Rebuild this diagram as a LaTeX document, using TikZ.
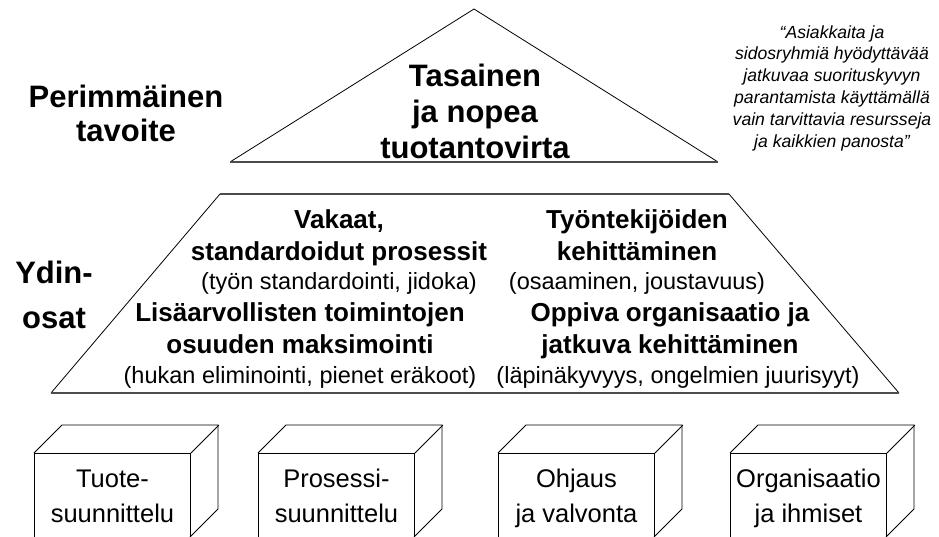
\documentclass[tikz,border=0pt]{standalone}
\usepackage{fontspec}
\setmainfont{Liberation Sans}
\usetikzlibrary{positioning}

\tikzset{
  otsikko/.style={font=\fontsize{31}{37}\selectfont\bfseries, align=center, inner sep=0pt},
  tuettu/.style={execute at begin node=\strut, execute at end node=\strut},
  lihava/.style={font=\fontsize{26}{32}\selectfont\bfseries, align=center, inner sep=0pt, tuettu},
  ohut/.style={font=\fontsize{23.5}{28}\selectfont, align=center, inner sep=0pt, tuettu},
  laatikko/.style={draw, line width=0.9pt, minimum width=156pt, minimum height=110pt, anchor=north west, inner sep=0pt},
  laatikkoteksti/.style={font=\fontsize{25.5}{35}\selectfont, align=center, inner sep=0pt, tuettu},
  pohja/.style={line width=1.6pt, black!70},
}

\begin{document}
\begin{tikzpicture}[x=1pt,y=-1pt]
\useasboundingbox (0,0) rectangle (939,537);
\clip (0,0) rectangle (939,537);

% kolmio
\coordinate (huippu) at (474,9);
\coordinate (kvasen) at (230,162);
\coordinate (koikea) at (718,162);
\draw[line width=0.8pt] (kvasen)--(huippu)--(koikea);
\draw[pohja] (kvasen)--(koikea);

\node[otsikko, font=\fontsize{31}{34}\selectfont\bfseries] (tavoite) at (126,113) {Perimmäinen\\tavoite};
\node[otsikko, font=\fontsize{31}{36}\selectfont\bfseries] (virta) at (475,111) {Tasainen\\ja nopea\\tuotantovirta};

\node[font=\fontsize{17.6}{21.8}\selectfont\itshape, align=center, inner sep=0pt] (lainaus) at (832,88)
  {“Asiakkaita ja\\sidosryhmiä hyödyttävää\\jatkuvaa suorituskyvyn\\parantamista käyttämällä\\vain tarvittavia resursseja\\ja kaikkien panosta”};

% puolisuunnikas
\coordinate (tvasen) at (220,194);
\coordinate (toikea) at (729,194);
\coordinate (avasen) at (51,393);
\coordinate (aoikea) at (899,393);
\draw[line width=0.8pt] (avasen)--(tvasen);
\draw[line width=0.8pt] (toikea)--(aoikea);
\draw[pohja] (tvasen)--(toikea);
\draw[pohja] (avasen)--(aoikea);

\node[otsikko, font=\fontsize{31}{45}\selectfont\bfseries] (ydin) at (54,295) {Ydin-\\osat};

\node[lihava] (vakaat) at (339,240) {Vakaat,\\standardoidut prosessit};
\node[ohut] (vakaatsel) at (339,284) {(työn standardointi, jidoka)};
\node[lihava] (tyont) at (637,240) {Työntekijöiden\\kehittäminen};
\node[ohut] (tyontsel) at (637,284) {(osaaminen, joustavuus)};
\node[lihava] (lisa) at (300,333) {Lisäarvollisten toimintojen\\osuuden maksimointi};
\node[ohut] (lisasel) at (300,378) {(hukan eliminointi, pienet eräkoot)};
\node[lihava] (oppiva) at (670,333) {Oppiva organisaatio ja\\jatkuva kehittäminen};
\node[ohut] (oppivasel) at (678,378) {(läpinäkyvyys, ongelmien juurisyyt)};

% laatikot
\foreach \x/\nimi/\teksti in {34/tuote/Tuote-\\suunnittelu, 258/prosessi/Prosessi-\\suunnittelu,
    498/ohjaus/Ohjaus\\ja valvonta, 730/organisaatio/Organisaatio\\ja ihmiset}{
  \node[laatikko] (\nimi) at (\x,453) {};
  \draw[line width=0.9pt] (\nimi.north west) -- ++(28,-28) -- ++(156,0) -- ++(0,84) -- ++(-28,28);
  \draw[line width=0.9pt] (\nimi.north east) -- ++(28,-28);
  \node[laatikkoteksti] (\nimi teksti) at ([yshift=-48pt]\nimi.north) {\teksti};
}

\end{tikzpicture}
\end{document}
